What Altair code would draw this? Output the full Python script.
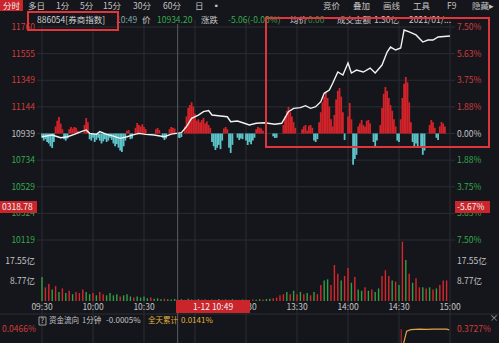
import altair as alt
import pandas as pd

# ---------------- data ----------------
# price line: minute from 09:30 (0..240, lunch removed) and % change vs 10939
price_min = [0, 6, 11, 15, 19, 23, 26, 28, 32, 34, 38, 41, 46, 50, 53, 57, 61, 66, 72, 76,
             82, 85, 88, 92, 95, 98, 100, 105, 109, 111, 115, 119, 122, 126, 131, 137, 141, 145, 148, 152,
             155, 158, 161, 164, 166, 169, 171, 174, 177, 180, 182, 185, 189, 193, 196, 200, 203, 205, 208, 211,
             213, 216, 220, 224, 227, 230, 233, 240]
price_pct = [-0.23, -0.11, -0.30, -0.23, -0.06, 0.13, 0.25, 0.01, -0.06, 0.13, -0.06, -0.15, -0.34, -0.23, -0.11, 0.01, -0.06, -0.11, -0.23, -0.04,
             0.06, 0.48, 1.07, 1.30, 1.54, 1.61, 1.30, 1.23, 1.18, 0.83, 0.88, 0.72, 0.60, 0.72, 0.76, 0.65, 0.72, 1.54, 1.77, 1.82,
             1.96, 1.77, 1.89, 2.24, 2.83, 3.06, 3.54, 4.33, 4.12, 4.96, 4.26, 4.47, 4.33, 4.61, 4.26, 4.82, 5.74, 6.09, 5.88, 6.02,
             7.29, 7.15, 6.94, 6.44, 6.58, 6.58, 6.80, 6.87]

# buy/sell imbalance bars (minute, value in % units of the price axis)
imbalance = [(0,-0.3),(1,-0.5),(2,-0.4),(3,-0.6),(4,-0.7),(5,-0.9),(6,-1.02),(7,-0.6),(8,0.5),(9,0.9),(10,1.16),(11,0.7),(12,0.3),
             (13,-0.4),(14,-0.5),(15,-0.35),(16,0.3),(17,0.45),(18,0.35),(19,0.46),(20,0.4),(21,0.2),(25,0.6),(26,1.09),(27,0.8),
             (28,-0.4),(29,-0.5),(30,-0.3),(31,-0.6),(32,-0.45),(33,-0.3),(34,-0.5),(35,-0.7),(36,-0.55),(37,-0.4),(38,-0.6),(39,-0.5),
             (40,-0.3),(41,-0.45),(42,-0.7),(43,-0.9),(44,-0.75),(45,-1.0),(46,-1.2),(47,-1.3),(48,-0.9),(49,-0.5),(50,0.2),(51,0.25),
             (52,-0.4),(53,-0.35),(55,0.4),(56,0.74),(57,0.6),(58,0.5),(59,0.65),(60,0.45),(61,0.3),(67,0.3),(68,0.39),(69,0.25),
             (71,-0.3),(72,-0.46),(73,-0.35),(75,0.3),(76,0.46),(77,0.4),(78,0.35),(80,-0.3),(81,-0.32),(82,-0.25),(84,0.5),(85,1.2),
             (86,1.8),(87,2.0),(88,2.2),(89,1.9),(90,1.4),(91,0.9),(92,1.0),(93,0.8),(94,0.95),(95,1.09),(96,0.7),(97,0.85),(98,0.6),
             (99,0.4),(100,-0.6),(101,-0.9),(102,-1.16),(103,-1.0),(104,-0.8),(105,-1.1),(106,-0.5),(107,0.35),(108,0.46),(109,0.3),
             (110,-1.0),(111,-1.37),(112,-0.8),(115,-0.3),(116,-0.46),(117,-0.35),(118,-0.4),(120,-0.5),(121,-0.81),(122,-0.6),
             (123,-0.75),(124,-0.5),(125,-0.3),(126,0.3),(127,0.46),(128,0.4),(129,0.35),(130,0.2),(136,-0.2),(137,-0.32),(138,-0.3),
             (142,0.6),(143,1.2),(144,1.6),(145,1.87),(146,1.5),(147,1.2),(148,0.8),(149,0.4),(153,0.3),(154,0.5),(155,0.6),(156,0.2),
             (157,0.55),(158,0.6),(159,0.4),(160,-0.5),(161,-0.6),(162,-0.4),(163,0.8),(164,1.5),(165,2.2),(166,2.6),(167,2.85),
             (168,2.5),(169,1.9),(170,1.0),(171,0.5),(172,1.3),(173,2.4),(174,3.0),(175,3.2),(176,2.6),(177,1.5),(178,-0.46),(180,1.2),
             (181,2.15),(182,1.0),(183,-2.2),(184,-1.8),(185,-1.5),(186,0.5),(187,0.7),(188,0.95),(189,0.6),(190,0.5),(191,0.9),
             (192,0.95),(193,0.7),(195,-0.6),(196,-0.95),(197,-0.5),(199,0.6),(200,1.8),(201,2.8),(202,3.27),(203,3.0),(204,2.5),
             (205,2.0),(206,1.6),(207,1.0),(208,0.5),(209,-0.5),(210,-0.6),(211,1.0),(212,2.5),(213,3.5),(214,3.98),(215,3.6),
             (216,2.2),(217,0.8),(218,-0.6),(219,-0.95),(220,-0.7),(221,-0.9),(223,-1.0),(224,-1.5),(225,-1.2),(228,0.6),(229,0.95),
             (230,0.8),(231,0.4),(232,-0.3),(233,-0.46),(234,0.5),(235,0.81),(236,0.7),(237,0.5)]

# turnover (亿) every 2 minutes, direction r=up g=down
vol_min = list(range(0, 240, 2))
vol_val = [10.5, 6, 7.5, 5, 6.5, 4, 5.5, 3.5, 4.5, 3, 4, 3.5, 5, 4, 3, 3.5, 2.5, 4, 3, 2.5,
           3.5, 2.5, 3, 2, 2.5, 3, 2, 1.5, 2, 1.5, 2, 1.2, 1.5, 1, 1.2, 0.8, 1, 0.8, 0.7, 0.9,
           0.6,
           0.8, 0.6, 1.0, 0.7, 0.5, 0.9, 0.6, 0.8, 0.5, 0.7, 0.6, 0.9, 0.5, 0.7, 0.6, 0.8, 0.5, 0.6, 0.7,
           0.6, 0.5, 0.7, 0.6, 0.8, 0.7, 0.9, 1.0, 1.2,
           1.5, 2.5, 3, 4, 3, 4.5, 3, 4, 3, 3.5, 2.5, 4, 3, 7, 9, 9.5, 7, 15.8, 12, 9,
           11, 14.5, 8, 10.5, 5, 4.5, 6, 4.5, 5, 4, 5.5, 11, 13.5, 11, 9, 8.5, 7, 26, 18, 12,
           8, 10, 6, 6, 5.5, 6, 5, 5.5, 7, 9, 9]
vol_dir = list("grrgrgrgrg" "rrrggrgrrg" "gggrgggrgg" "ggrgggrggg" "g"
               "grggrggrggrgggrggrg"
               "ggrggrggr"
               "rrrgrgrgrg" "rgrrggrrrg" "rrgrggrgrg" "grrrgrgrgr" "grrgrgrgrr" "r")

# cumulative fund flow (bottom panel)
flow_min = [212.6, 214.5, 217, 222, 226, 230, 234, 238, 239.5]
flow_val = [0.0, 0.32, 0.36, 0.37, 0.365, 0.37, 0.375, 0.37, 0.355]

# axis labels
grid_pct = [7.5, 5.625, 3.75, 1.875, 0, -1.875, -3.75, -5.625, -7.5]
left_lbl = ["11760", "11555", "11349", "11144", "10939", "10734", "10529", "10324", "10119"]
right_lbl = ["7.50%", "5.63%", "3.75%", "1.88%", "0.00%", "1.88%", "3.75%", "5.63%", "7.50%"]
lbl_kind = ["up", "up", "up", "up", "flat", "down", "down", "down", "down"]
vol_ticks = [17.55, 8.77]
vol_tick_lbl = ["17.55亿", "8.77亿"]
time_min = [0, 30, 60, 120, 150, 180, 210, 240]
time_lbl = ["09:30", "10:00", "10:30", "11:30", "13:30", "14:00", "14:30", "15:00"]
grid_min = [0, 30, 60, 90, 120, 150, 180, 210, 240]
cross_min = [79.8]

# ---------------- style ----------------
BG = "#14161b"
GRID = "#2a2d34"
RED = "#d3232a"
TEAL = "#5cc3c9"
VRED = "#d8262d"
VGREEN = "#2fa044"
LRED = "#d23c3c"
LGREEN = "#35a94e"
WHITE = "#f2f2f2"
GREY = "#c4c4c4"
FONT = "Noto Sans CJK SC"

xs = alt.Scale(domain=[0, 240], range=[37, 455])
ps = alt.Scale(domain=[-7.5, 7.5], range=[240, 27])
vs = alt.Scale(domain=[0, 26.32], range=[301, 241])
fs = alt.Scale(domain=[0, 0.4], range=[344, 328])

layers = []

# grid
hg = pd.DataFrame({"p": grid_pct})
layers.append(alt.Chart(hg).mark_rule(color=GRID, strokeWidth=1).encode(
    y=alt.Y("p:Q", scale=ps, axis=None), x=alt.value(37), x2=alt.value(455)))
vg = pd.DataFrame({"m": grid_min})
layers.append(alt.Chart(vg).mark_rule(color=GRID, strokeWidth=1).encode(
    x=alt.X("m:Q", scale=xs, axis=None), y=alt.value(20), y2=alt.value(343)))
layers.append(alt.Chart(pd.DataFrame({"a": [0]})).mark_rule(color=GRID).encode(
    x=alt.value(0), x2=alt.value(499), y=alt.value(314)))

# imbalance bars
imb = pd.DataFrame({"m": [a for a, b in imbalance], "v": [b for a, b in imbalance]})
imb["z"] = 0.0
layers.append(alt.Chart(imb).mark_bar(size=1.8).encode(
    x=alt.X("m:Q", scale=xs, axis=None),
    y=alt.Y("v:Q", scale=ps, axis=None), y2="z:Q",
    color=alt.condition("datum.v > 0", alt.value(RED), alt.value(TEAL))))

# volume
vol = pd.DataFrame({"m": vol_min, "v": vol_val, "d": vol_dir})
vol["z"] = 0.0
layers.append(alt.Chart(vol).mark_bar(size=1.4).encode(
    x=alt.X("m:Q", scale=xs, axis=None),
    y=alt.Y("v:Q", scale=vs, axis=None), y2="z:Q",
    color=alt.condition("datum.d == 'r'", alt.value(VRED), alt.value(VGREEN))))

# price line
pr = pd.DataFrame({"m": price_min, "p": price_pct})
layers.append(alt.Chart(pr).mark_line(color=WHITE, strokeWidth=1.4).encode(
    x=alt.X("m:Q", scale=xs, axis=None), y=alt.Y("p:Q", scale=ps, axis=None)))

# crosshair
layers.append(alt.Chart(pd.DataFrame({"m": cross_min})).mark_rule(color="#5a5d63", strokeWidth=1).encode(
    x=alt.X("m:Q", scale=xs, axis=None), y=alt.value(24), y2=alt.value(343)))

# fund flow
fl = pd.DataFrame({"m": flow_min, "v": flow_val})
layers.append(alt.Chart(pd.DataFrame({"m": [211.3], "a": [0.0], "b": [0.37]})).mark_rule(color="#c8302f", strokeWidth=1).encode(
    x=alt.X("m:Q", scale=xs, axis=None), y=alt.Y("a:Q", scale=fs, axis=None), y2="b:Q"))
layers.append(alt.Chart(fl).mark_line(color="#e0a64a", strokeWidth=1.2).encode(
    x=alt.X("m:Q", scale=xs, axis=None), y=alt.Y("v:Q", scale=fs, axis=None)))

# price axis labels
lab = pd.DataFrame({"p": grid_pct, "l": left_lbl, "r": right_lbl, "k": lbl_kind})
for kind, col in [("up", LRED), ("flat", GREY), ("down", LGREEN)]:
    sub = lab[lab.k == kind]
    layers.append(alt.Chart(sub).mark_text(align="right", baseline="middle", fontSize=8.5, font=FONT, color=col).encode(
        y=alt.Y("p:Q", scale=ps, axis=None), x=alt.value(35), text="l:N"))
    layers.append(alt.Chart(sub).mark_text(align="left", baseline="middle", fontSize=8.5, font=FONT, color=col).encode(
        y=alt.Y("p:Q", scale=ps, axis=None), x=alt.value(457), text="r:N"))

vt = pd.DataFrame({"v": vol_ticks, "t": vol_tick_lbl})
layers.append(alt.Chart(vt).mark_text(align="right", baseline="middle", fontSize=8.5, font=FONT, color=GREY).encode(
    y=alt.Y("v:Q", scale=vs, axis=None), x=alt.value(35), text="t:N"))
layers.append(alt.Chart(vt).mark_text(align="left", baseline="middle", fontSize=8.5, font=FONT, color=GREY).encode(
    y=alt.Y("v:Q", scale=vs, axis=None), x=alt.value(457), text="t:N"))

tl = pd.DataFrame({"m": time_min, "t": time_lbl})
layers.append(alt.Chart(tl).mark_text(align="center", baseline="middle", fontSize=8.5, font=FONT, color=GREY).encode(
    x=alt.X("m:Q", scale=xs, axis=None), y=alt.value(307), text="t:N"))


def box(x1, y1, x2, y2, fill=None, stroke=None, sw=1.5):
    kw = {"fill": fill if fill is not None else "transparent"}
    if stroke is not None:
        kw["stroke"] = stroke
        kw["strokeWidth"] = sw
    return alt.Chart(pd.DataFrame({"a": [0]})).mark_rect(**kw).encode(
        x=alt.value(x1), x2=alt.value(x2), y=alt.value(y1), y2=alt.value(y2))


def txt(s, x, y, color=GREY, size=9, align="left", weight="normal"):
    return alt.Chart(pd.DataFrame({"t": [s]})).mark_text(
        align=align, baseline="middle", color=color, fontSize=size, font=FONT, fontWeight=weight).encode(
        x=alt.value(x), y=alt.value(y), text="t:N")


# crosshair value boxes
layers.append(box(0, 201, 37, 213, fill="#c9252b"))
layers.append(txt("0318.78", 2, 207, WHITE, 8.5))
layers.append(box(455, 201, 490, 213, fill="#c9252b"))
layers.append(txt("-5.67%", 457, 207, WHITE, 8.5))
layers.append(box(176, 300, 250, 313, fill="#c9252b"))
layers.append(txt("1-12 10:49", 213, 306.5, WHITE, 8.5, "center"))

# header row 1
layers.append(box(0, 0, 23, 11, fill="#c9252b"))
layers.append(txt("分时", 11.5, 5.5, WHITE, 8.5, "center"))
for s, x in [("多日", 28), ("1分", 56), ("5分", 80), ("15分", 103), ("30分", 133), ("60分", 163), ("日", 195), ("▪", 212),
             ("竞价", 323), ("叠加", 353), ("画线", 383), ("工具", 413), ("F9", 447), ("隐藏▸", 472)]:
    layers.append(txt(s, x, 5.5, GREY, 8.5))

# header row 2
row2 = [("886054[券商指数]", 37, "#d2d2d2"), ("10:49", 116, "#7fa7a6"), ("价", 142, GREY), ("10934.20", 157, LGREEN),
        ("涨跌", 201, GREY), ("-5.06(-0.05%)", 228, LGREEN), ("均价", 290, GREY), ("0.00", 308, "#2f8f45"),
        ("成交金额", 337, GREY), ("1.30亿", 374, GREY), ("2021/01/...", 409, GREY)]
for s, x, c in row2:
    layers.append(txt(s, x, 20, c, 8.5))

# annotation boxes
layers.append(box(28, 12, 118, 30, stroke="#e0353a", sw=2))
layers.append(box(266, 18, 489, 147, stroke="#e0353a", sw=2))

# bottom panel text
layers.append(box(39, 317, 46, 325, stroke="#9a9a9a", sw=1))
layers.append(txt("?", 42.5, 321, GREY, 7, "center"))
layers.append(txt("资金流向", 49, 321, GREY, 7.5))
layers.append(txt("1分钟", 82, 321, GREY, 7.5))
layers.append(txt("-0.0005%", 106, 321, GREY, 8))
layers.append(txt("全天累计", 148, 321, "#e3b23c", 7.5))
layers.append(txt("0.0141%", 181, 321, "#e3b23c", 8))
layers.append(txt("0.0466%", 2, 329, LRED, 8.5))
layers.append(txt("0.3727%", 457, 329, LRED, 8.5))
layers.append(txt("×", 494, 318, "#aaaaaa", 9, "center"))

chart = alt.layer(*layers).resolve_scale(y="independent").properties(
    width=499, height=343, autosize=alt.AutoSizeParams(type="none"), padding=0,
    background=BG,
).configure_view(stroke=None)

chart.save("out.html", embed_options={"renderer": "svg", "actions": False})
